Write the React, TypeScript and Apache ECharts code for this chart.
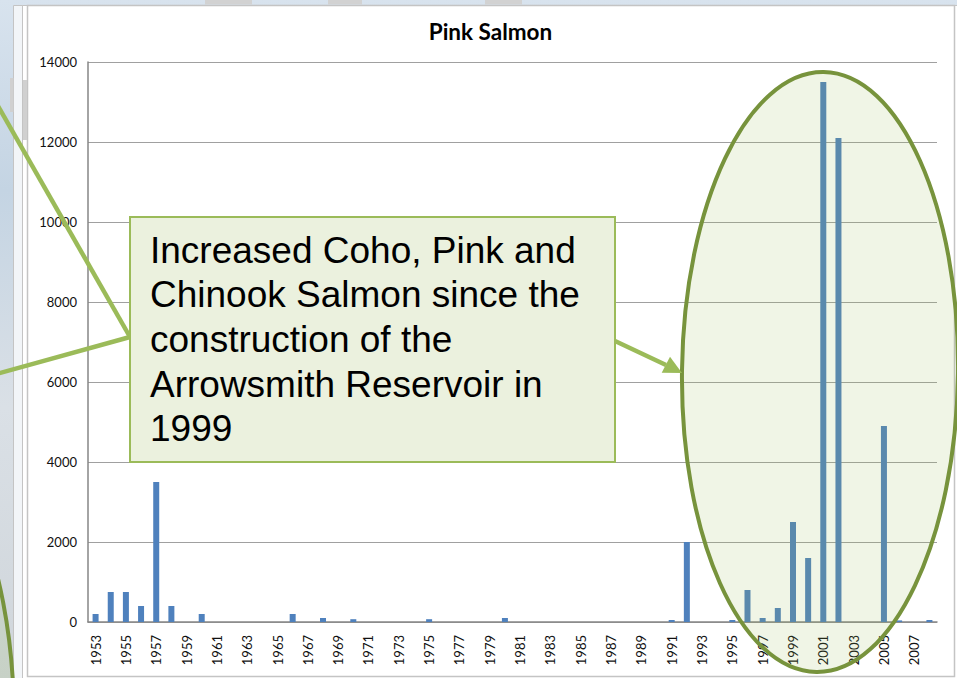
import React, { useEffect, useRef } from "react";
import * as echarts from "echarts";

const years = [
  "1953", "1954", "1955", "1956", "1957", "1958", "1959", "1960", "1961", "1962",
  "1963", "1964", "1965", "1966", "1967", "1968", "1969", "1970", "1971", "1972",
  "1973", "1974", "1975", "1976", "1977", "1978", "1979", "1980", "1981", "1982",
  "1983", "1984", "1985", "1986", "1987", "1988", "1989", "1990", "1991", "1992",
  "1993", "1994", "1995", "1996", "1997", "1998", "1999", "2000", "2001", "2002",
  "2003", "2004", "2005", "2006", "2007", "2008",
];

const pinkSalmon = [
  200, 750, 750, 400, 3500, 400, 0, 200, 0, 0,
  0, 0, 0, 200, 0, 100, 0, 70, 0, 0,
  0, 0, 70, 0, 0, 0, 0, 100, 0, 0,
  0, 0, 0, 0, 0, 0, 0, 0, 50, 2000,
  0, 0, 50, 800, 100, 350, 2500, 1600, 13500, 12100,
  0, 0, 4900, 40, 0, 50,
];

const yMin = 0;
const yMax = 14000;
const yInterval = 2000;

const chartTitle = "Pink Salmon";
const calloutLines = [
  "Increased Coho, Pink and",
  "Chinook Salmon since the",
  "construction of the",
  "Arrowsmith Reservoir in",
  "1999",
];

export default function App() {
  const ref = useRef<HTMLDivElement>(null);

  useEffect(() => {
    if (!ref.current) return;
    const chart = echarts.init(ref.current, null, { renderer: "svg" });

    const green = "#9BBB59";
    const olive = "#77933C";

    const background: any[] = [
      { type: "rect", z: -12, shape: { x: 13.5, y: 5.5, width: 960, height: 700 }, style: { fill: "#F2F5F8", stroke: "#C4C4C4", lineWidth: 1 } },
      { type: "rect", z: -11, shape: { x: 22.5, y: 5.5, width: 960, height: 700 }, style: { fill: "#FFFFFF", stroke: "#C4C4C4", lineWidth: 1 } },
      { type: "rect", z: -10, shape: { x: 27.5, y: 5.5, width: 927, height: 671 }, style: { fill: "#FFFFFF", stroke: "#C4C4C4", lineWidth: 1.5 } },
      { type: "rect", z: -9, shape: { x: 205, y: 0, width: 47, height: 4.5 }, style: { fill: "#D2D2D2" } },
      { type: "rect", z: -9, shape: { x: 328, y: 0, width: 34, height: 4.5 }, style: { fill: "#D2D2D2" } },
      { type: "rect", z: -9, shape: { x: 485, y: 0, width: 37, height: 4.5 }, style: { fill: "#D2D2D2" } },
      { type: "rect", z: -9, shape: { x: 10, y: 78, width: 3.5, height: 34 }, style: { fill: "#D0D0D0" } },
      { type: "rect", z: -9, shape: { x: 23, y: 80, width: 4, height: 60 }, style: { fill: "#D0D0D0" } },
    ];

    const titleEl = {
      type: "text",
      z: 5,
      x: 490.5,
      y: 31,
      style: {
        text: chartTitle,
        fontFamily: "Lato",
        fontWeight: "bold",
        fontSize: 22.5,
        fill: "#000000",
        align: "center",
        textAlign: "center",
        verticalAlign: "middle",
        textVerticalAlign: "middle",
      },
    };

    const overlays: any[] = [
      // partial ellipse at lower left
      {
        type: "ellipse", z: 100,
        shape: { cx: -123, cy: 720, rx: 137, ry: 301 },
        style: { fill: "rgba(155,187,89,0.15)", stroke: olive, lineWidth: 4 },
      },
      // main highlight ellipse
      {
        type: "ellipse", z: 100,
        x: 820, y: 372,
        rotation: -0.012,
        shape: { cx: 0, cy: 0, rx: 138, ry: 300 },
        style: { fill: "rgba(155,187,89,0.15)", stroke: olive, lineWidth: 4 },
      },
      // connector lines
      { type: "line", z: 101, shape: { x1: 130, y1: 337, x2: -6, y2: 99 }, style: { stroke: green, lineWidth: 4.5 } },
      { type: "line", z: 101, shape: { x1: 130, y1: 337, x2: -6, y2: 374.7 }, style: { stroke: green, lineWidth: 4.5 } },
      { type: "line", z: 101, shape: { x1: 615, y1: 341, x2: 666, y2: 365 }, style: { stroke: green, lineWidth: 4.5 } },
      {
        type: "polygon", z: 101,
        shape: { points: [[682, 373], [661.7, 372.7], [670, 356.7]] },
        style: { fill: green },
      },
      // callout box
      {
        type: "rect", z: 102,
        shape: { x: 130, y: 217, width: 485, height: 245 },
        style: { fill: "#EBF1DE", stroke: green, lineWidth: 2 },
      },
      ...calloutLines.map((line, i) => ({
        type: "text", z: 103,
        x: 150,
        y: 250 + i * 44.7,
        style: {
          text: line,
          fontFamily: "Liberation Sans, Arial, sans-serif",
          fontSize: 37,
          fill: "#000000",
          align: "left",
          textAlign: "left",
          verticalAlign: "middle",
          textVerticalAlign: "middle",
        },
      })),
    ];

    chart.setOption({
      animation: false,
      grid: { left: 88, top: 62, right: 20, bottom: 56 },
      xAxis: {
        type: "category",
        data: years,
        boundaryGap: true,
        axisTick: { show: false },
        axisLine: { lineStyle: { color: "#868686", width: 1.5 } },
        axisLabel: {
          interval: 1,
          rotate: 90,
          margin: 13,
          padding: [6, 0, 0, 0],
          fontFamily: "Lato",
          fontSize: 13,
          color: "#111111",
        },
      },
      yAxis: {
        type: "value",
        min: yMin,
        max: yMax,
        interval: yInterval,
        axisLine: { show: true, lineStyle: { color: "#868686", width: 1.5 } },
        axisTick: { show: false },
        splitLine: { lineStyle: { color: "#A0A0A0", width: 1 } },
        axisLabel: {
          margin: 11,
          fontFamily: "Lato",
          fontSize: 13,
          color: "#111111",
          formatter: (v: number) => String(v),
        },
      },
      series: [
        {
          type: "bar",
          data: pinkSalmon,
          barWidth: 6,
          itemStyle: { color: "#4F81BD" },
        },
      ],
      graphic: { elements: [...background, titleEl, ...overlays] },
    });

    return () => chart.dispose();
  }, []);

  return (
    <div
      style={{
        position: "fixed",
        left: 0,
        top: 0,
        width: 957,
        height: 678,
        background:
          "linear-gradient(180deg, #d8e3ee 0%, #c4d4e3 28%, #dae0e6 60%, #cfd5da 100%)",
      }}
    >
      <div ref={ref} style={{ width: 957, height: 678 }} />
    </div>
  );
}
